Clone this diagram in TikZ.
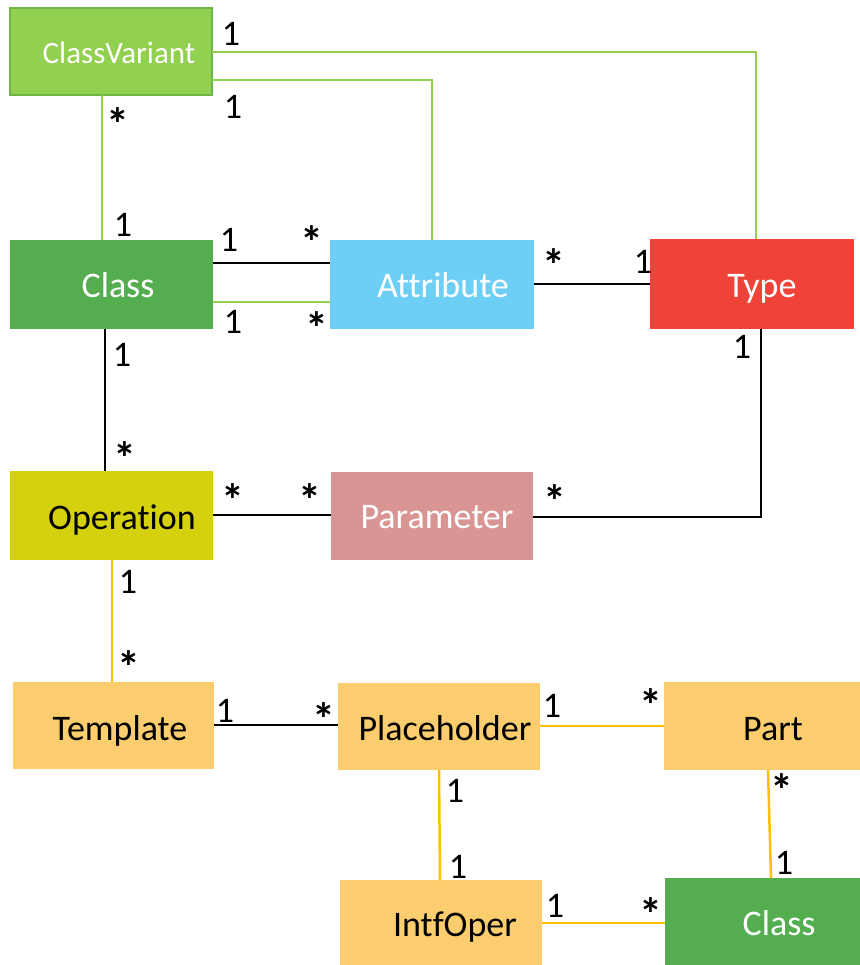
\documentclass[tikz,border=0pt]{standalone}
\usepackage{fontspec}
\setmainfont{Carlito}[Ligatures={NoCommon,NoContextual}]
\usetikzlibrary{fit}

\definecolor{cvgreen}{HTML}{92D050}
\definecolor{cvborder}{HTML}{6DB544}
\definecolor{clsgreen}{HTML}{54AE50}
\definecolor{attrblue}{HTML}{6DCFF6}
\definecolor{typered}{HTML}{EF4238}
\definecolor{opyellow}{HTML}{D6D10F}
\definecolor{parampink}{HTML}{D99594}
\definecolor{tmplorange}{HTML}{FCCD6E}
\definecolor{linkorange}{HTML}{FFC000}

\tikzset{
  box/.style={rectangle, inner sep=0pt, outer sep=0pt, draw=none},
  title/.style={anchor=base, inner sep=0pt, font=\fontsize{18}{20}\selectfont},
  mult/.style={anchor=base, inner sep=0pt, font=\fontsize{18}{20}\selectfont, text=black},
  many/.style={anchor=base, inner sep=0pt, yshift=-2.5pt, font=\fontsize{23}{25}\selectfont\bfseries, text=black},
  blk/.style={draw=black, line width=1.35pt},
  grn/.style={draw=cvgreen, line width=1pt},
  org/.style={draw=linkorange, line width=1.25pt},
}

\begin{document}
\begin{tikzpicture}[x=0.5pt, y=-0.5pt]
\useasboundingbox (0,0) rectangle (860,965);

% class boxes
\node[box, fill=cvgreen, draw=cvborder, line width=1pt, fit={(10,8) (212,95)}] (cv) {};
\node[box, fill=clsgreen, fit={(10,240) (213,329)}] (cls) {};
\node[box, fill=attrblue, fit={(330,240) (534,329)}] (attr) {};
\node[box, fill=typered, fit={(650,239) (854,329)}] (type) {};
\node[box, fill=opyellow, fit={(10,471) (213,560)}] (op) {};
\node[box, fill=parampink, fit={(331,472) (533,560)}] (param) {};
\node[box, fill=tmplorange, fit={(13,682) (214,769)}] (tmpl) {};
\node[box, fill=tmplorange, fit={(338,683) (540,770)}] (ph) {};
\node[box, fill=tmplorange, fit={(664,682) (860,770)}] (part) {};
\node[box, fill=tmplorange, fit={(340,880) (542,965)}] (intf) {};
\node[box, fill=clsgreen, fit={(665,878) (860,965)}] (cls2) {};

% box titles
\node[title, text=white, font=\fontsize{15.5}{18}\selectfont] (cvT) at (119,63) {ClassVariant};
\node[title, text=white] (clsT) at (118,297) {Class};
\node[title, text=white] (attrT) at (443,297) {Attribute};
\node[title, text=white] (typeT) at (762,297) {Type};
\node[title, text=black] (opT) at (122,529) {Operation};
\node[title, text=white] (paramT) at (437,528) {Parameter};
\node[title, text=black] (tmplT) at (120,740) {Template};
\node[title, text=black] (phT) at (445,740) {Placeholder};
\node[title, text=black] (partT) at (773,740) {Part};
\node[title, text=black] (intfT) at (455,936) {IntfOper};
\node[title, text=white] (cls2T) at (779,935) {Class};

% associations
\draw[grn] (cv.east |- 0,52) -| (type.north -| 756,0);
\draw[grn] (cv.east |- 0,80) -| (attr.north -| 432,0);
\draw[grn] (cv.south -| 102,0) -- (cls.north -| 102,0);
\draw[blk] (cls.east |- 0,263) -- (attr.west |- 0,263);
\draw[grn] (cls.east |- 0,302) -- (attr.west |- 0,302);
\draw[blk] (attr.east |- 0,284) -- (type.west |- 0,284);
\draw[blk] (cls.south -| 105,0) -- (op.north -| 105,0);
\draw[blk] (param.east |- 0,517) -| (type.south -| 761,0);
\draw[blk] (op.east |- 0,515) -- (param.west |- 0,515);
\draw[org] (op.south -| 112,0) -- (tmpl.north -| 112,0);
\draw[blk] (tmpl.east |- 0,725) -- (ph.west |- 0,725);
\draw[org] (ph.east |- 0,726) -- (part.west |- 0,726);
\draw[org] (ph.south -| 439,0) -- (intf.north -| 440,0);
\draw[org] (part.south -| 768,0) -- (cls2.north -| 771,0);
\draw[org] (intf.east |- 0,923) -- (cls2.west |- 0,923);

% multiplicities
\node[mult] (m1) at (231,45) {1};
\node[mult] (m2) at (233,118) {1};
\node[many] (m3) at (118,135) {*};
\node[mult] (m4) at (123,236) {1};
\node[mult] (m5) at (229,251) {1};
\node[many] (m6) at (312,253) {*};
\node[mult] (m7) at (233,333) {1};
\node[many] (m8) at (317,339) {*};
\node[many] (m9) at (554,276) {*};
\node[mult] (m10) at (643,273) {1};
\node[mult] (m11) at (122,366) {1};
\node[mult] (m12) at (742,358) {1};
\node[many] (m13) at (125,469) {*};
\node[many] (m14) at (233,511) {*};
\node[many] (m15) at (310,511) {*};
\node[many] (m16) at (555,512) {*};
\node[mult] (m17) at (128,593) {1};
\node[many] (m18) at (129,678) {*};
\node[mult] (m19) at (225,722) {1};
\node[many] (m20) at (324,730) {*};
\node[mult] (m21) at (552,717) {1};
\node[many] (m22) at (651,716) {*};
\node[mult] (m23) at (455,802) {1};
\node[mult] (m24) at (458,878) {1};
\node[many] (m25) at (782,801) {*};
\node[mult] (m26) at (784,874) {1};
\node[mult] (m27) at (555,917) {1};
\node[many] (m28) at (651,925) {*};
\end{tikzpicture}
\end{document}
